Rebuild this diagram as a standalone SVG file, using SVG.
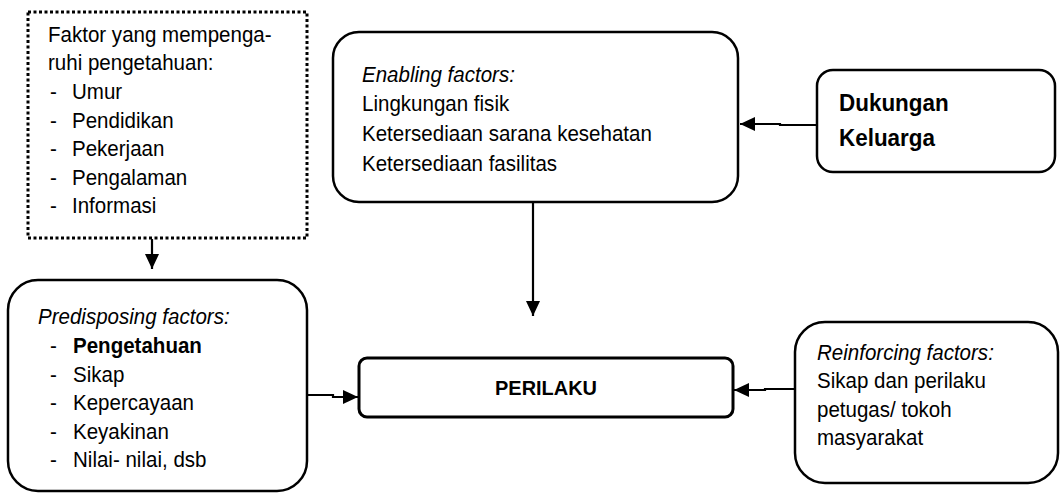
<svg xmlns="http://www.w3.org/2000/svg" width="1061" height="493" viewBox="0 0 1061 493">
<style>
text{font-family:"Liberation Sans",Arial,sans-serif;font-size:21.5px;fill:#000}
.it{font-style:italic}
.b{font-weight:bold}
.box{fill:#fff;stroke:#000;stroke-width:2.5}
.dot{fill:#fff;stroke:#000;stroke-width:3;stroke-dasharray:3 2.5}
.conn{fill:none;stroke:#000;stroke-width:2.2}
</style>
<defs>
<marker id="ah" viewBox="0 0 15 14" refX="15" refY="7" markerWidth="15" markerHeight="14" markerUnits="userSpaceOnUse" orient="auto">
<path d="M0,0 L15,7 L0,14 Z" fill="#000"/>
</marker>
</defs>
<rect width="1061" height="493" fill="#fff"/>
<g id="connectors">
<line class="conn" x1="152" y1="239" x2="152" y2="269" marker-end="url(#ah)"/>
<line class="conn" x1="533" y1="202" x2="533" y2="316" marker-end="url(#ah)"/>
<polyline class="conn" points="817,125 780,125 780,124 740,124" marker-end="url(#ah)"/>
<polyline class="conn" points="307,395 333,395 333,397 358,397" marker-end="url(#ah)"/>
<polyline class="conn" points="795,389 765,389 765,390 734,390" marker-end="url(#ah)"/>
</g>
<g id="faktor">
<rect class="dot" x="28" y="12" width="279" height="226"/>
<text transform="translate(48 42) scale(0.955 1)">Faktor yang mempenga-</text>
<text transform="translate(48 70) scale(0.955 1)">ruhi pengetahuan:</text>
<text transform="translate(50 99) scale(0.955 1)">-</text><text transform="translate(72 99) scale(0.955 1)">Umur</text>
<text transform="translate(50 128) scale(0.955 1)">-</text><text transform="translate(72 128) scale(0.955 1)">Pendidikan</text>
<text transform="translate(50 156) scale(0.955 1)">-</text><text transform="translate(72 156) scale(0.955 1)">Pekerjaan</text>
<text transform="translate(50 185) scale(0.955 1)">-</text><text transform="translate(72 185) scale(0.955 1)">Pengalaman</text>
<text transform="translate(50 213) scale(0.955 1)">-</text><text transform="translate(72 213) scale(0.955 1)">Informasi</text>
</g>
<g id="enabling">
<rect class="box" x="333" y="32" width="405" height="170" rx="26"/>
<text class="it" transform="translate(362 82) scale(0.955 1)">Enabling factors:</text>
<text transform="translate(362 111) scale(0.955 1)">Lingkungan fisik</text>
<text transform="translate(362 141) scale(0.955 1)">Ketersediaan sarana kesehatan</text>
<text transform="translate(362 171) scale(0.955 1)">Ketersediaan fasilitas</text>
</g>
<g id="dukungan">
<rect class="box" x="817" y="70" width="238" height="102" rx="16"/>
<text class="b" transform="translate(839 111) scale(0.955 1)" style="font-size:23.5px">Dukungan</text>
<text class="b" transform="translate(839 146) scale(0.955 1)" style="font-size:23.5px">Keluarga</text>
</g>
<g id="predisposing">
<rect class="box" x="8" y="280" width="299" height="211" rx="30"/>
<text class="it" transform="translate(38 324) scale(0.955 1)">Predisposing factors:</text>
<text transform="translate(50 353) scale(0.955 1)">-</text><text class="b" transform="translate(73 353) scale(0.955 1)">Pengetahuan</text>
<text transform="translate(50 382) scale(0.955 1)">-</text><text transform="translate(73 382) scale(0.955 1)">Sikap</text>
<text transform="translate(50 410) scale(0.955 1)">-</text><text transform="translate(73 410) scale(0.955 1)">Kepercayaan</text>
<text transform="translate(50 439) scale(0.955 1)">-</text><text transform="translate(73 439) scale(0.955 1)">Keyakinan</text>
<text transform="translate(50 467) scale(0.955 1)">-</text><text transform="translate(73 467) scale(0.955 1)">Nilai- nilai, dsb</text>
</g>
<g id="perilaku">
<rect class="box" x="359" y="358" width="374" height="59" rx="8" style="stroke-width:3"/>
<text class="b" transform="translate(546 395) scale(0.95 1)" text-anchor="middle" style="font-size:21px">PERILAKU</text>
</g>
<g id="reinforcing">
<rect class="box" x="795" y="322" width="263" height="161" rx="30"/>
<text class="it" transform="translate(817 360) scale(0.955 1)">Reinforcing factors:</text>
<text transform="translate(817 388) scale(0.955 1)">Sikap dan perilaku</text>
<text transform="translate(817 417) scale(0.955 1)">petugas/ tokoh</text>
<text transform="translate(817 445) scale(0.955 1)">masyarakat</text>
</g>
</svg>
